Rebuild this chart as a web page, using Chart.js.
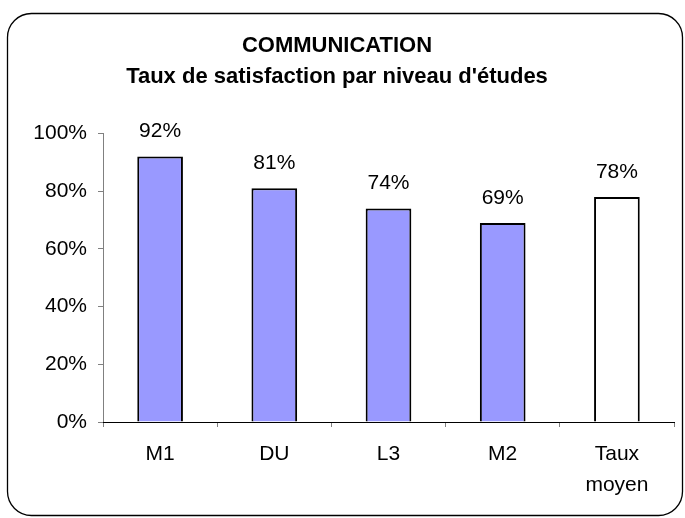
<!DOCTYPE html>
<html><head><meta charset="utf-8">
<script src="https://cdn.jsdelivr.net/npm/chart.js@4/dist/chart.umd.min.js"></script>
<style>html,body{margin:0;padding:0;background:#fff;}#wrap{width:685px;height:518px;position:relative;}</style>
</head><body><div id="wrap"><canvas id="c" width="685" height="518"></canvas></div>
<script>
const categories = ['M1', 'DU', 'L3', 'M2', ['Taux', 'moyen']];
const values = [92, 81, 74, 69, 78];
const barColors = ['#9999FF', '#9999FF', '#9999FF', '#9999FF', '#FFFFFF'];
const yTicks = [0, 20, 40, 60, 80, 100];
const titleLines = ['COMMUNICATION', "Taux de satisfaction par niveau d'études"];

const FONT = "'Liberation Sans', Arial, sans-serif";

const framePlugin = {
  id: 'frame',
  beforeDraw(chart) {
    const ctx = chart.ctx;
    ctx.save();
    ctx.fillStyle = '#fff';
    ctx.fillRect(0, 0, chart.width, chart.height);
    ctx.beginPath();
    ctx.lineWidth = 1.3;
    ctx.strokeStyle = '#000';
    ctx.roundRect(7.5, 13.5, 675, 502, 24);
    ctx.stroke();
    ctx.restore();
  }
};

const labelPlugin = {
  id: 'vlabels',
  afterDatasetsDraw(chart) {
    const ctx = chart.ctx;
    const meta = chart.getDatasetMeta(0);
    ctx.save();
    ctx.font = '21px ' + FONT;
    ctx.fillStyle = '#000';
    ctx.textAlign = 'center';
    ctx.textBaseline = 'middle';
    meta.data.forEach((el, i) => {
      ctx.fillText(values[i] + '%', el.x, el.y - 25);
    });
    ctx.restore();
  }
};

new Chart(document.getElementById('c'), {
  type: 'bar',
  data: {
    labels: categories,
    datasets: [{
      data: values,
      backgroundColor: barColors,
      borderColor: '#000',
      borderWidth: 2,
      barPercentage: 0.4,
      categoryPercentage: 1
    }]
  },
  options: {
    responsive: false,
    animation: false,
    devicePixelRatio: 1,
    layout: { padding: { left: 0, right: 11, top: 0, bottom: 0 } },
    plugins: {
      legend: { display: false },
      tooltip: { enabled: false },
      title: {
        display: true,
        text: titleLines,
        color: '#000',
        font: { family: FONT, size: 22, weight: 'bold', lineHeight: 1.41 },
        padding: { top: 30.5, bottom: 41 }
      }
    },
    scales: {
      y: {
        min: 0, max: 100,
        afterBuildTicks(scale) { scale.ticks = yTicks.map(v => ({ value: v })); },
        afterFit(scale) { scale.width = 103; },
        border: { color: '#808080', width: 1 },
        grid: { display: true, drawOnChartArea: false, tickLength: 5, color: '#808080' },
        ticks: {
          color: '#000',
          padding: 11,
          font: { family: FONT, size: 21 },
          callback: v => v + '%'
        }
      },
      x: {
        border: { color: '#000', width: 1 },
        grid: { display: true, drawOnChartArea: false, tickLength: 5, color: '#808080', offset: true },
        ticks: {
          color: '#000',
          padding: 11,
          maxRotation: 0,
          font: { family: FONT, size: 21, lineHeight: 1.5 }
        },
        afterFit(scale) { scale.height = 96; }
      }
    }
  },
  plugins: [framePlugin, labelPlugin]
});
</script>
</body></html>
